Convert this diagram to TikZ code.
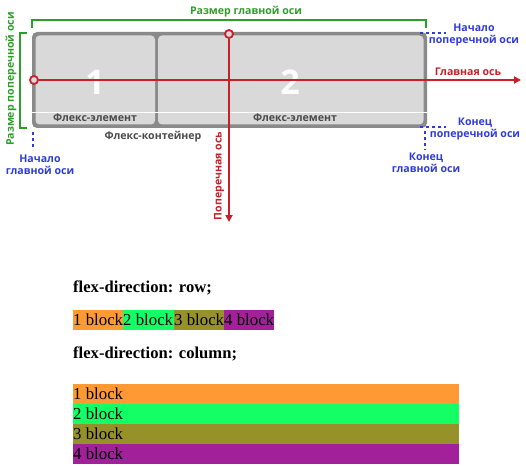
\documentclass[tikz,border=0pt]{standalone}
\usepackage{fontspec}
\setmainfont{Liberation Serif}
\newfontfamily\osans{Open Sans}
\usetikzlibrary{arrows.meta}
\definecolor{gbord}{HTML}{8A8A8A}
\definecolor{itemfill}{HTML}{D9D9D9}
\definecolor{axred}{HTML}{C8202A}
\definecolor{grn}{HTML}{2E9E2A}
\definecolor{blu}{HTML}{2F3BD8}
\definecolor{dgray}{HTML}{4A4A4A}
\definecolor{bor}{HTML}{FF9933}
\definecolor{bgr}{HTML}{14FF66}
\definecolor{bol}{HTML}{969128}
\definecolor{bpu}{HTML}{A2209A}
\tikzset{
  lbl/.style={font=\osans\bfseries\fontsize{10.6}{12.5}\selectfont, inner sep=0pt, align=center},
  bluelbl/.style={lbl, text=blu},
  redlbl/.style={lbl, text=axred},
  grnlbl/.style={lbl, text=grn},
  graylbl/.style={lbl, text=dgray},
  bignum/.style={font=\osans\bfseries\fontsize{34}{34}\selectfont, text=white!92!itemfill, inner sep=0pt},
  ring/.style={circle, draw=axred, line width=1.8pt, fill=itemfill, inner sep=0pt, minimum size=8pt},
  axis/.style={axred, line width=2pt, -{Triangle[length=7pt,width=7pt]}},
  bdash/.style={blu, line width=2.2pt, dash pattern=on 3pt off 3pt},
  brack/.style={grn, line width=1.5pt},
  serif/.style={font=\fontsize{16.8}{19}\selectfont, inner sep=0pt, anchor=base west},
  hd/.style={font=\bfseries\fontsize{16.6}{19}\selectfont, inner sep=0pt, anchor=base west}
}
\begin{document}
\begin{tikzpicture}[x=1pt,y=-1pt]
\useasboundingbox (0,0) rectangle (526,465);
% container
\fill[gbord, rounded corners=5pt] (32,32) rectangle (427,128);
\fill[itemfill, rounded corners=4pt] (35.5,35.5) rectangle (155,124.5);
\fill[itemfill, rounded corners=4pt] (158,35.5) rectangle (423.5,124.5);
\draw[white, line width=0.6pt] (32,112) -- (427,112);
\node[bignum] (n1) at (95,82) {1};
\node[bignum] (n2) at (290,82) {2};
\node[graylbl] (e1) at (95,118) {Флекс-элемент};
\node[graylbl] (e2) at (295,118) {Флекс-элемент};
\node[graylbl] (fc) at (153,137) {Флекс-контейнер};
% axes
\node[ring] (ms) at (34,80) {};
\coordinate (me) at (521,80);
\draw[axis] (ms) -- (me);
\node[ring] (cs) at (229,34) {};
\coordinate (ce) at (229,222);
\draw[axis] (cs) -- (ce);
\node[redlbl] (ml) at (468,72) {Главная ось};
\node[redlbl, rotate=90] (cl) at (219,176) {Поперечная ось};
% green brackets
\coordinate (t1) at (32,28); \coordinate (t2) at (32,20);
\coordinate (t3) at (426,20); \coordinate (t4) at (426,28);
\draw[brack] (t1) -- (t2) -- (t3) -- (t4);
\node[grnlbl] (gl1) at (246,12) {Размер главной оси};
\coordinate (l1) at (27,33); \coordinate (l2) at (20,33);
\coordinate (l3) at (20,128); \coordinate (l4) at (27,128);
\draw[brack] (l1) -- (l2) -- (l3) -- (l4);
\node[grnlbl, rotate=90] (gl2) at (11,79) {Размер поперечной оси};
% blue markers
\coordinate (b1) at (33,132); \coordinate (b2) at (33,150);
\draw[bdash] (b1) -- (b2);
\node[bluelbl] (sm) at (40,165) {Начало\\главной оси};
\coordinate (b3) at (420,33); \coordinate (b4) at (446,33);
\draw[bdash] (b3) -- (b4);
\node[bluelbl] (sc) at (474,35) {Начало\\поперечной оси};
\coordinate (b5) at (420,127); \coordinate (b6) at (446,127);
\draw[bdash] (b5) -- (b6);
\node[bluelbl] (ec) at (475,129) {Конец\\поперечной оси};
\coordinate (b7) at (425,131); \coordinate (b8) at (425,150);
\draw[bdash] (b7) -- (b8);
\node[bluelbl] (em) at (426,163) {Конец\\главной оси};
% bottom part
\node[hd] (h1) at (73,292) {flex-direction: row;};
\fill[bor] (73,310) rectangle (123,329.5);
\fill[bgr] (123,310) rectangle (174,329.5);
\fill[bol] (174,310) rectangle (224,329.5);
\fill[bpu] (224,310) rectangle (274,329.5);
\node[serif] (r1) at (73,325) {1 block};
\node[serif] (r2) at (123,325) {2 block};
\node[serif] (r3) at (174,325) {3 block};
\node[serif] (r4) at (224,325) {4 block};
\node[hd] (h2) at (73,358) {flex-direction: column;};
\fill[bor] (73,384) rectangle (459,404);
\fill[bgr] (73,404) rectangle (459,424);
\fill[bol] (73,424) rectangle (459,444);
\fill[bpu] (73,444) rectangle (459,463.5);
\node[serif] (c1) at (73,399.5) {1 block};
\node[serif] (c2) at (73,419.5) {2 block};
\node[serif] (c3) at (73,439.5) {3 block};
\node[serif] (c4) at (73,459) {4 block};
\end{tikzpicture}
\end{document}
